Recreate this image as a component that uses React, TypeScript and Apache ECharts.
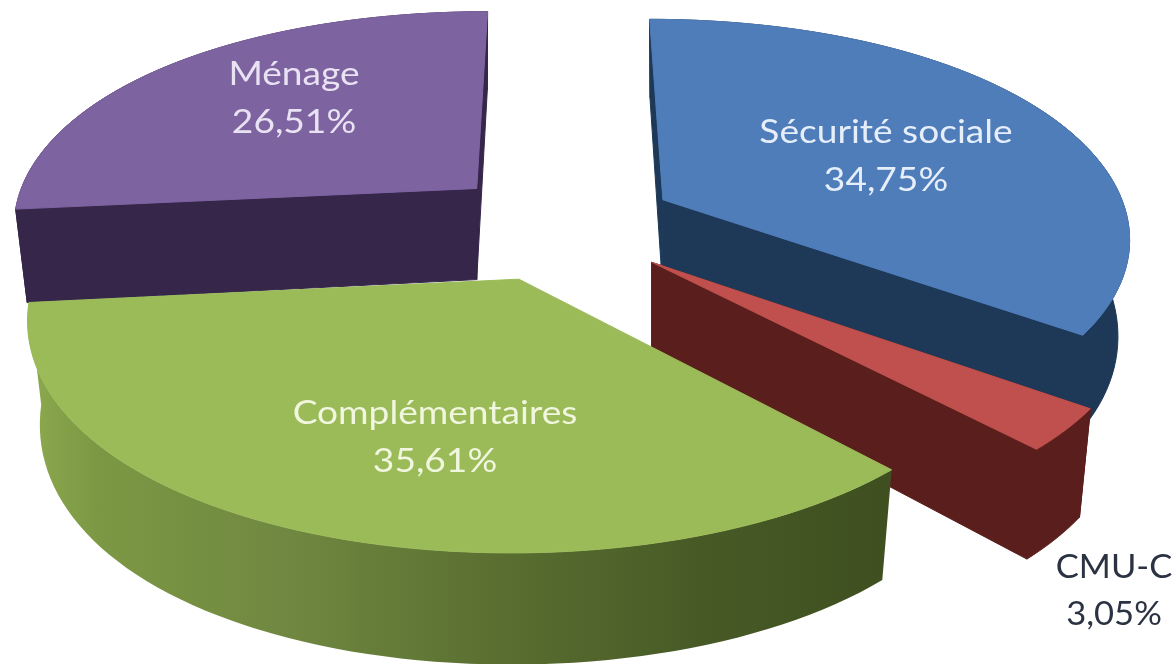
import React, { useEffect, useRef } from "react";
import * as echarts from "echarts";

const categories = ["Ménage", "Sécurité sociale", "CMU-C", "Complémentaires"];
const shares = [26.51, 34.75, 3.05, 35.61];

const topColors = ["#7E63A1", "#4E7DBA", "#C0504D", "#9BBB59"];
const wallColors = ["#35264A", "#1E3858", "#5A1F1D", "#425523"];
const labelColors = ["#E9E2F3", "#E6EEF9", "#2B3242", "#F1F6DF"];
const labelCenters = [[294, 97], [886, 155], [1114, 589], [435, 436]];
const labelStretch = [1.16, 1.16, 1.08, 1.16];

const W = 1173, H = 664;
const VIEW = { cx: 561, cy: 225, kx: 467, ky: 223, q: 0.155, p: 0.1515, depth: 95, baseShrink: 0.975, explode: 0.25 };
const STEPS = 72;

const total = shares.reduce((a, b) => a + b, 0);
const firstAngle = -(shares[0] / total) * 360;

function projectTop(X: number, V: number): number[] {
  const s = 1 / (1 - VIEW.p * V);
  return [VIEW.cx + VIEW.kx * X * s, VIEW.cy + VIEW.ky * V * (1 + VIEW.q * V)];
}

function projectBase(X: number, V: number, pivotX: number): number[] {
  const t = projectTop(X, V);
  const wall = VIEW.depth * (1 + 0.19 * Math.tanh(1.3 * V));
  return [pivotX + (t[0] - pivotX) * VIEW.baseShrink, t[1] + wall];
}

function renderSlice(params: any, api: any) {
  const i = params.dataIndex;
  const value = api.value(1);
  const before = shares.slice(0, i).reduce((a, b) => a + b, 0);
  const a0 = ((firstAngle + (before / total) * 360) * Math.PI) / 180;
  const a1 = a0 + ((value / total) * 360 * Math.PI) / 180;
  const mid = (a0 + a1) / 2;
  const ox = VIEW.explode * Math.sin(mid);
  const ov = -VIEW.explode * Math.cos(mid);

  const rim: number[][] = [];
  for (let k = 0; k <= STEPS; k++) {
    const a = a0 + ((a1 - a0) * k) / STEPS;
    rim.push([ox + Math.sin(a), ov - Math.cos(a)]);
  }
  const apexTop = projectTop(ox, ov);
  const apexBase = projectBase(ox, ov, apexTop[0]);
  const top = rim.map((q) => projectTop(q[0], q[1]));
  const base = rim.map((q) => projectBase(q[0], q[1], apexTop[0]));

  const isFront = i === 3;
  const wallFill = isFront
    ? new echarts.graphic.LinearGradient(0, 0, 1, 0, [
        { offset: 0, color: "#8CAA4E" },
        { offset: 0.08, color: "#7C9844" },
        { offset: 0.31, color: "#6F8740" },
        { offset: 0.55, color: "#596E30" },
        { offset: 0.78, color: "#475A26" },
        { offset: 1, color: "#3F4F20" },
      ])
    : wallColors[i];

  const poly = (points: number[][], fill: any, stroke: any) => ({
    type: "polygon",
    shape: { points },
    style: { fill, stroke: stroke || "none", lineWidth: stroke ? 1 : 0 },
  });

  const cuts = isFront
    ? []
    : [
        poly([apexTop, top[0], base[0], apexBase], wallColors[i], wallColors[i]),
        poly([apexTop, top[STEPS], base[STEPS], apexBase], wallColors[i], wallColors[i]),
      ];

  return {
    type: "group",
    children: [
      ...cuts,
      poly([...top, ...base.slice().reverse()], wallFill, isFront ? null : wallColors[i]),
      poly([apexTop, ...top], topColors[i], topColors[i]),
      {
        type: "text",
        x: labelCenters[i][0],
        y: labelCenters[i][1],
        scaleX: labelStretch[i],
        style: {
          text: `${categories[i]}\n${value.toFixed(2).replace(".", ",")}%`,
          fill: labelColors[i],
          font: '32px Lato, "Open Sans", sans-serif',
          lineHeight: 48,
          align: "center",
          verticalAlign: "middle",
        },
      },
    ],
  };
}

export default function App() {
  const ref = useRef<HTMLDivElement>(null);
  useEffect(() => {
    document.body.style.margin = "0";
    const chart = echarts.init(ref.current!, undefined, { renderer: "svg" });
    chart.setOption({
      animation: false,
      backgroundColor: "#ffffff",
      series: [
        {
          type: "custom",
          coordinateSystem: "none",
          silent: true,
          data: shares.map((v, i) => [i, v]),
          renderItem: renderSlice,
        },
      ],
    });
    return () => chart.dispose();
  }, []);
  return <div ref={ref} style={{ width: W, height: H, filter: "blur(0.6px)" }} />;
}
